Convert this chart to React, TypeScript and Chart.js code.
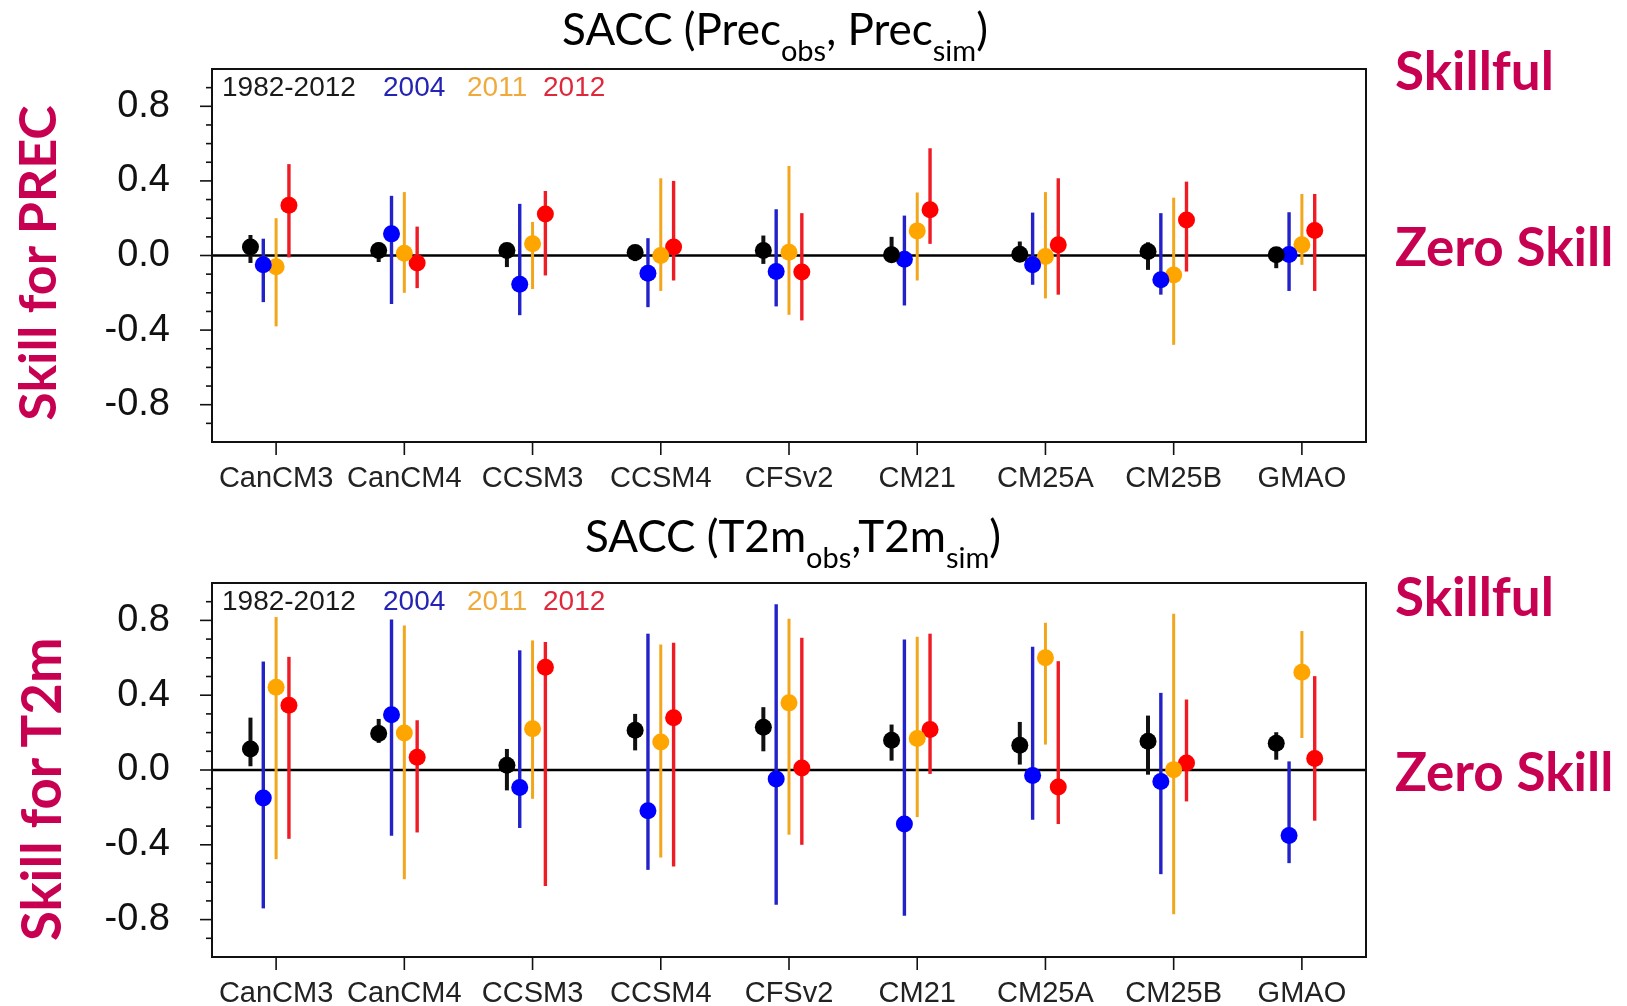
import React, { useEffect, useRef } from 'react';
import { Chart, registerables } from 'chart.js';

Chart.register(...registerables);

// ---------- categories / series ----------
const MODELS = ['CanCM3', 'CanCM4', 'CCSM3', 'CCSM4', 'CFSv2', 'CM21', 'CM25A', 'CM25B', 'GMAO'];
const SERIES_LABELS = ['1982-2012', '2004', '2011', '2012'];
const SERIES_OFFSETS = [-0.2, -0.1, 0, 0.1];
const DOT_COLORS = ['#000000', '#0000ff', '#ffa500', '#ff0000'];
const BAR_COLORS = ['#111111', '#2222c8', '#f2a61c', '#ee1c24'];
const LEGEND_COLORS = ['#1a1a1a', '#2424b4', '#f0aa3c', '#e0283c'];
const Y_MAJOR = [-0.8, -0.4, 0, 0.4, 0.8];

// ---------- top panel: SACC precipitation ----------
const prec1982 = [0.045, 0.027, 0.027, 0.016, 0.027, 0.004, 0.007, 0.021, 0.004];
const prec1982Lo = [-0.04, -0.035, -0.062, -0.03, -0.045, -0.03, -0.03, -0.077, -0.068];
const prec1982Hi = [0.11, 0.07, 0.057, 0.05, 0.107, 0.1, 0.075, 0.071, 0.04];

const prec2004 = [-0.05, 0.116, -0.154, -0.095, -0.086, -0.02, -0.05, -0.13, 0.005];
const prec2004Lo = [-0.25, -0.26, -0.32, -0.277, -0.273, -0.268, -0.157, -0.21, -0.19];
const prec2004Hi = [0.09, 0.32, 0.277, 0.093, 0.248, 0.214, 0.23, 0.227, 0.232];

const prec2011 = [-0.06, 0.012, 0.0625, 0.0, 0.018, 0.132, -0.005, -0.104, 0.057];
const prec2011Lo = [-0.38, -0.2, -0.18, -0.19, -0.318, -0.134, -0.23, -0.479, -0.05];
const prec2011Hi = [0.2, 0.34, 0.18, 0.414, 0.48, 0.338, 0.34, 0.31, 0.33];

const prec2012 = [0.27, -0.04, 0.223, 0.045, -0.089, 0.245, 0.057, 0.19, 0.134];
const prec2012Lo = [-0.01, -0.175, -0.107, -0.134, -0.348, 0.0625, -0.21, -0.086, -0.19];
const prec2012Hi = [0.49, 0.155, 0.346, 0.4, 0.227, 0.575, 0.414, 0.396, 0.33];

// ---------- bottom panel: SACC 2m temperature ----------
const t2m1982 = [0.1125, 0.195, 0.025, 0.2125, 0.229, 0.159, 0.132, 0.154, 0.143];
const t2m1982Lo = [0.02, 0.145, -0.109, 0.105, 0.1, 0.05, 0.029, -0.025, 0.055];
const t2m1982Hi = [0.28, 0.273, 0.1125, 0.3, 0.336, 0.243, 0.257, 0.291, 0.202];

const t2m2004 = [-0.15, 0.296, -0.093, -0.218, -0.048, -0.289, -0.03, -0.061, -0.35];
const t2m2004Lo = [-0.74, -0.352, -0.31, -0.534, -0.72, -0.78, -0.266, -0.557, -0.498];
const t2m2004Hi = [0.58, 0.805, 0.64, 0.729, 0.886, 0.698, 0.659, 0.4125, 0.046];

const t2m2011 = [0.443, 0.198, 0.221, 0.15, 0.359, 0.168, 0.6, 0.002, 0.523];
const t2m2011Lo = [-0.477, -0.584, -0.154, -0.468, -0.346, -0.252, 0.136, -0.771, 0.171];
const t2m2011Hi = [0.818, 0.773, 0.693, 0.671, 0.809, 0.7125, 0.7875, 0.836, 0.743];

const t2m2012 = [0.346, 0.068, 0.55, 0.279, 0.011, 0.216, -0.091, 0.0375, 0.061];
const t2m2012Lo = [-0.368, -0.334, -0.62, -0.516, -0.4, -0.021, -0.289, -0.168, -0.271];
const t2m2012Hi = [0.605, 0.266, 0.684, 0.68, 0.707, 0.729, 0.582, 0.377, 0.502];

// ---------- layout ----------
const W = 1627;
const PLOT_LEFT = 212;
const PLOT_RIGHT = 1366;
const AXIS_FONT = "'Liberation Sans', Arial, Helvetica, sans-serif";
const TITLE_FONT = "Lato, 'Open Sans', sans-serif";
const MAGENTA = '#c80052';

const errorBarPlugin = {
  id: 'ncl',
  beforeDatasetsDraw(chart: any) {
    const { ctx, chartArea, scales } = chart;
    const x = scales.x;
    const y = scales.y;
    ctx.save();
    // zero line
    ctx.strokeStyle = '#000';
    ctx.lineWidth = 2.5;
    ctx.beginPath();
    const y0 = y.getPixelForValue(0);
    ctx.moveTo(chartArea.left, y0);
    ctx.lineTo(chartArea.right, y0);
    ctx.stroke();
    // error bars
    chart.data.datasets.forEach((ds: any, s: number) => {
      ctx.strokeStyle = BAR_COLORS[s];
      ctx.lineWidth = s === 2 ? 3 : s === 0 ? 4 : 3.4;
      ds.lo.forEach((lo: number, i: number) => {
        const px = x.getPixelForValue(i + SERIES_OFFSETS[s]);
        ctx.beginPath();
        ctx.moveTo(px, y.getPixelForValue(lo));
        ctx.lineTo(px, y.getPixelForValue(ds.hi[i]));
        ctx.stroke();
      });
    });
    ctx.restore();
  },
  afterDraw(chart: any) {
    const { ctx, chartArea, scales } = chart;
    const x = scales.x;
    const y = scales.y;
    ctx.save();
    ctx.strokeStyle = '#111';
    ctx.lineWidth = 2;
    ctx.strokeRect(chartArea.left, chartArea.top, chartArea.right - chartArea.left, chartArea.bottom - chartArea.top);
    ctx.lineWidth = 1.6;
    // y ticks (major + minor), outward
    for (let k = -9; k <= 9; k++) {
      const v = k / 10;
      const py = y.getPixelForValue(v);
      const major = k % 4 === 0;
      ctx.beginPath();
      ctx.moveTo(chartArea.left, py);
      ctx.lineTo(chartArea.left - (major ? 12 : 6), py);
      ctx.stroke();
    }
    // x ticks
    MODELS.forEach((_, i) => {
      const px = x.getPixelForValue(i);
      ctx.beginPath();
      ctx.moveTo(px, chartArea.bottom);
      ctx.lineTo(px, chartArea.bottom + 13);
      ctx.stroke();
    });
    // in-plot legend text
    ctx.font = `28px ${AXIS_FONT}`;
    ctx.textBaseline = 'middle';
    ctx.textAlign = 'left';
    const legendX = [10, 171, 255, 331];
    SERIES_LABELS.forEach((lab, s) => {
      ctx.fillStyle = LEGEND_COLORS[s];
      ctx.fillText(lab, chartArea.left + legendX[s], chartArea.top + 19);
    });
    ctx.restore();
  },
};

function makeChart(canvas: HTMLCanvasElement, cfg: any) {
  const { vals, los, his, padTop, padBottom, xHeight } = cfg;
  return new Chart(canvas, {
    type: 'scatter',
    data: {
      datasets: vals.map((v: number[], s: number) => ({
        label: SERIES_LABELS[s],
        data: v.map((yv: number, i: number) => ({ x: i + SERIES_OFFSETS[s], y: yv })),
        lo: los[s],
        hi: his[s],
        backgroundColor: DOT_COLORS[s],
        borderColor: DOT_COLORS[s],
        pointRadius: 8.5,
        pointHoverRadius: 8.5,
        pointBorderWidth: 0,
      })),
    } as any,
    options: {
      responsive: false,
      animation: false,
      devicePixelRatio: 1,
      events: [],
      layout: { padding: { left: 0, right: W - PLOT_RIGHT, top: padTop, bottom: padBottom } },
      plugins: { legend: { display: false }, tooltip: { enabled: false }, title: { display: false } },
      scales: {
        x: {
          type: 'linear',
          min: -0.5,
          max: 8.5,
          grid: { display: false, drawTicks: false },
          border: { display: false },
          afterBuildTicks: (s: any) => {
            s.ticks = MODELS.map((_, i) => ({ value: i }));
          },
          afterFit: (s: any) => {
            s.height = xHeight;
          },
          ticks: {
            autoSkip: false,
            maxRotation: 0,
            minRotation: 0,
            padding: 20,
            color: '#222',
            font: { family: AXIS_FONT, size: 29 },
            callback: (v: any) => MODELS[Math.round(Number(v))] ?? '',
          },
        },
        y: {
          type: 'linear',
          min: -1,
          max: 1,
          grid: {
            display: true,
            color: 'rgba(0,0,0,0)',
            drawOnChartArea: false,
            drawTicks: true,
            tickLength: 42,
          },
          border: { display: false },
          afterBuildTicks: (s: any) => {
            s.ticks = Y_MAJOR.map((v) => ({ value: v }));
          },
          afterFit: (s: any) => {
            s.width = PLOT_LEFT;
          },
          ticks: {
            padding: 0,
            color: '#111',
            font: { family: AXIS_FONT, size: 38 },
            callback: (v: any) => Number(v).toFixed(1),
          },
        },
      },
    } as any,
    plugins: [errorBarPlugin as any],
  });
}

function Txt({ left, baseline, size, bold, color, children, center }: any) {
  const lh = 60;
  const top = baseline - lh / 2 - 0.387 * size;
  return (
    <div
      style={{
        position: 'absolute',
        left: center ? left - 400 : left,
        width: center ? 800 : undefined,
        textAlign: center ? 'center' : 'left',
        top,
        height: lh,
        lineHeight: `${lh}px`,
        fontSize: size,
        fontFamily: TITLE_FONT,
        fontWeight: bold ? 700 : 400,
        color: color || '#000',
        whiteSpace: 'nowrap',
      }}
    >
      {children}
    </div>
  );
}

function VTxt({ cx, cy, size, children }: any) {
  return (
    <div
      style={{
        position: 'absolute',
        left: cx - 250,
        top: cy - size / 2,
        width: 500,
        height: size,
        lineHeight: `${size}px`,
        textAlign: 'center',
        fontSize: size,
        fontFamily: TITLE_FONT,
        fontWeight: 700,
        color: MAGENTA,
        whiteSpace: 'nowrap',
        transform: 'rotate(-90deg)',
      }}
    >
      {children}
    </div>
  );
}

const subStyle: React.CSSProperties = { fontSize: 29, verticalAlign: '-16px', lineHeight: 0 };

export default function App() {
  const c1 = useRef<HTMLCanvasElement>(null);
  const c2 = useRef<HTMLCanvasElement>(null);

  useEffect(() => {
    const a = makeChart(c1.current!, {
      vals: [prec1982, prec2004, prec2011, prec2012],
      los: [prec1982Lo, prec2004Lo, prec2011Lo, prec2012Lo],
      his: [prec1982Hi, prec2004Hi, prec2011Hi, prec2012Hi],
      padTop: 69,
      padBottom: 8,
      xHeight: 50,
    });
    const b = makeChart(c2.current!, {
      vals: [t2m1982, t2m2004, t2m2011, t2m2012],
      los: [t2m1982Lo, t2m2004Lo, t2m2011Lo, t2m2012Lo],
      his: [t2m1982Hi, t2m2004Hi, t2m2011Hi, t2m2012Hi],
      padTop: 83,
      padBottom: 4,
      xHeight: 45,
    });
    return () => {
      a.destroy();
      b.destroy();
    };
  }, []);

  return (
    <div style={{ position: 'absolute', left: 0, top: 0, width: W, height: 1006, background: '#fff', overflow: 'hidden' }}>
      <canvas ref={c1} width={W} height={500} style={{ position: 'absolute', left: 0, top: 0, width: W, height: 500 }} />
      <canvas ref={c2} width={W} height={506} style={{ position: 'absolute', left: 0, top: 500, width: W, height: 506 }} />

      <Txt left={775} baseline={45} size={44} center>
        SACC (Prec<sub style={subStyle}>obs</sub>, Prec<sub style={subStyle}>sim</sub>)
      </Txt>
      <Txt left={793} baseline={552} size={44} center>
        SACC (T2m<sub style={subStyle}>obs</sub>,T2m<sub style={subStyle}>sim</sub>)
      </Txt>

      <Txt left={1395} baseline={91} size={53} bold color={MAGENTA}>Skillful</Txt>
      <Txt left={1395} baseline={267} size={53} bold color={MAGENTA}>Zero Skill</Txt>
      <Txt left={1395} baseline={617} size={53} bold color={MAGENTA}>Skillful</Txt>
      <Txt left={1395} baseline={792} size={53} bold color={MAGENTA}>Zero Skill</Txt>

      <VTxt cx={36} cy={263} size={52}>Skill for PREC</VTxt>
      <VTxt cx={40} cy={789} size={54.5}>Skill for T2m</VTxt>
    </div>
  );
}
